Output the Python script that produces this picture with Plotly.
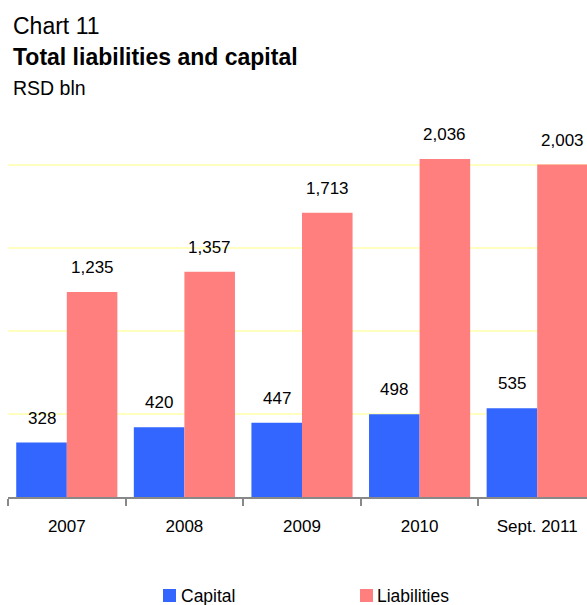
import plotly.graph_objects as go

categories = ["2007", "2008", "2009", "2010", "Sept. 2011"]
capital = [328, 420, 447, 498, 535]
liabilities = [1235, 1357, 1713, 2036, 2003]
series_names = ["Capital", "Liabilities"]
colors = ["#3366FF", "#FF7F7F"]

W, H = 587, 605
L, R, T, B = 8, 0, 81, 108
PW, PH = W - L - R, H - T - B
CAT_W = 117.6
FONT = "Arial, Liberation Sans, sans-serif"

def px_x(px):
    return (px - L) / PW

def px_y(py):
    return (H - B - py) / PH

fig = go.Figure()
for name, vals, col in zip(series_names, [capital, liabilities], colors):
    fig.add_trace(go.Bar(x=categories, y=vals, name=name, marker_color=col,
                         marker_line_width=0, showlegend=False))

bar_w = CAT_W * (1 - 0.14) / 2
annotations = []
for vals, sh in [(capital, -bar_w / 2), (liabilities, bar_w / 2)]:
    for i, v in enumerate(vals):
        annotations.append(dict(x=i, y=v, xref="x", yref="y", text=f"{v:,}",
                                showarrow=False, xshift=sh, yanchor="bottom",
                                yshift=13, font=dict(size=17, color="black", family=FONT)))

# titles
annotations += [
    dict(x=px_x(11), y=px_y(26), xref="paper", yref="paper", text="Chart 11",
         showarrow=False, xanchor="left", yanchor="middle",
         font=dict(size=23, color="black", family=FONT)),
    dict(x=px_x(11), y=px_y(57), xref="paper", yref="paper", text="<b>Total liabilities and capital</b>",
         showarrow=False, xanchor="left", yanchor="middle",
         font=dict(size=23, color="black", family=FONT)),
    dict(x=px_x(11), y=px_y(88), xref="paper", yref="paper", text="RSD bln",
         showarrow=False, xanchor="left", yanchor="middle",
         font=dict(size=19.5, color="black", family=FONT)),
]

# legend (manual)
shapes = []
for name, col, sx, tx in [("Capital", colors[0], 163, 179), ("Liabilities", colors[1], 360, 375)]:
    shapes.append(dict(type="rect", xref="paper", yref="paper",
                       x0=px_x(sx), x1=px_x(sx + 13), y0=px_y(602), y1=px_y(589),
                       fillcolor=col, line_width=0))
    annotations.append(dict(x=px_x(tx), y=px_y(596), xref="paper", yref="paper", text=name,
                            showarrow=False, xanchor="left", yanchor="middle",
                            font=dict(size=17.5, color="black", family=FONT)))

fig.update_layout(
    width=W, height=H,
    margin=dict(l=L, r=R, t=T, b=B, pad=0),
    paper_bgcolor="white", plot_bgcolor="white",
    barmode="group", bargap=0.14, bargroupgap=0,
    annotations=annotations, shapes=shapes,
    showlegend=False,
    font=dict(family=FONT, size=17, color="black"),
)
fig.update_xaxes(type="category", range=[-0.5, -0.5 + PW / CAT_W], showline=True,
                 linecolor="#888888", linewidth=2, ticks="outside", tickson="boundaries",
                 ticklen=7, tickwidth=2, tickcolor="#888888", showgrid=False,
                 tickfont=dict(size=17, color="black", family=FONT), ticklabelstandoff=13)
fig.update_yaxes(range=[0, 2506], dtick=500, showgrid=True, gridcolor="#FFFFC0",
                 gridwidth=2, zeroline=False, showticklabels=False, showline=False)

fig.write_html("out.html")
